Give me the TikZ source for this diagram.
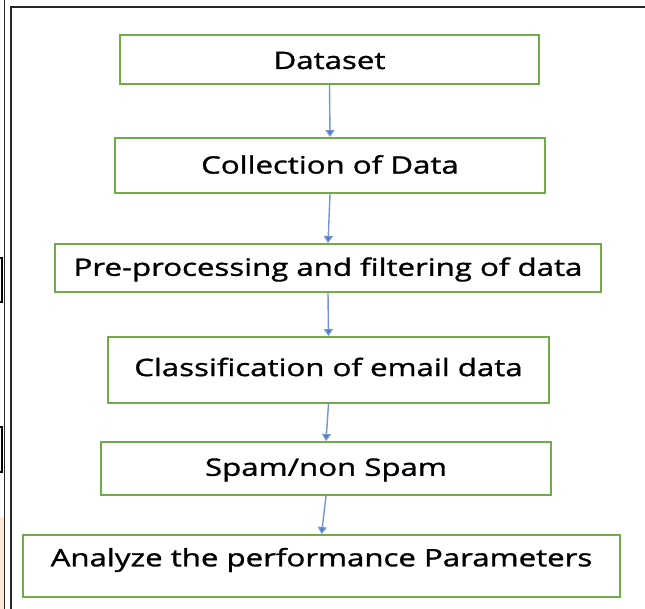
\documentclass[tikz,border=0pt]{standalone}
\usepackage{fontspec}
\setmainfont{Open Sans}[FakeStretch=1.3, FakeBold=1.3]
\usetikzlibrary{arrows.meta}
\definecolor{boxgreen}{HTML}{70AD47}
\definecolor{arrowblue}{HTML}{4472C4}
\definecolor{peach}{HTML}{FCE9DA}
\newcommand{\liftby}[2]{\raisebox{#1}[\height][\depth]{#2}}
\tikzset{
  stepbox/.style={draw=boxgreen, line width=2pt, fill=white, inner sep=0pt,
    font=\fontsize{24}{28}\selectfont, text=black},
  flow/.style={draw=arrowblue!75, line width=1.4pt,
    -{Triangle[width=9pt,length=7pt,fill=arrowblue]}},
  frameline/.style={draw=black!85, line width=1.5pt}
}
\begin{document}
\begin{tikzpicture}[x=1pt,y=-1pt]
\useasboundingbox (0,0) rectangle (645,609);
% frame remnants
\fill[peach] (0,517) rectangle (4,609);
\draw[frameline] (4.5,0) -- (4.5,609);
\draw[frameline] (11,609) -- (11,7) -- (645,7);
\draw[line width=2pt, black] (0,258) -- (2,258) -- (2,302) -- (0,302);
\draw[line width=2pt, black] (0,427) -- (2,427) -- (2,472) -- (0,472);
% boxes
\node[stepbox, minimum width=419pt, minimum height=49pt] (ds) at (329.5,59.5) {\liftby{-1pt}{Dataset}};
\node[stepbox, minimum width=430pt, minimum height=55pt] (col) at (330,165.5) {\liftby{1pt}{Collection of Data}};
\node[stepbox, minimum width=546pt, minimum height=48pt] (pre) at (328,268) {\liftby{-1.5pt}{Pre-processing and filtering of data}};
\node[stepbox, minimum width=441pt, minimum height=66pt] (cls) at (328.5,370) {\liftby{3pt}{Classification of email data}};
\node[stepbox, minimum width=450pt, minimum height=53pt] (spam) at (326,468.5) {\liftby{-1.5pt}{Spam/non Spam}};
\node[stepbox, minimum width=597pt, minimum height=62pt] (ana) at (321.5,566) {\liftby{6pt}{Analyze the performance Parameters}};
% arrows
\draw[flow] (ds.south) -- (col.north);
\draw[flow] (col.south) -- (pre.north);
\draw[flow] (pre.south) -- (cls.north);
\draw[flow] (cls.south) -- (spam.north);
\draw[flow] (spam.south) -- (ana.north);
\end{tikzpicture}
\end{document}
